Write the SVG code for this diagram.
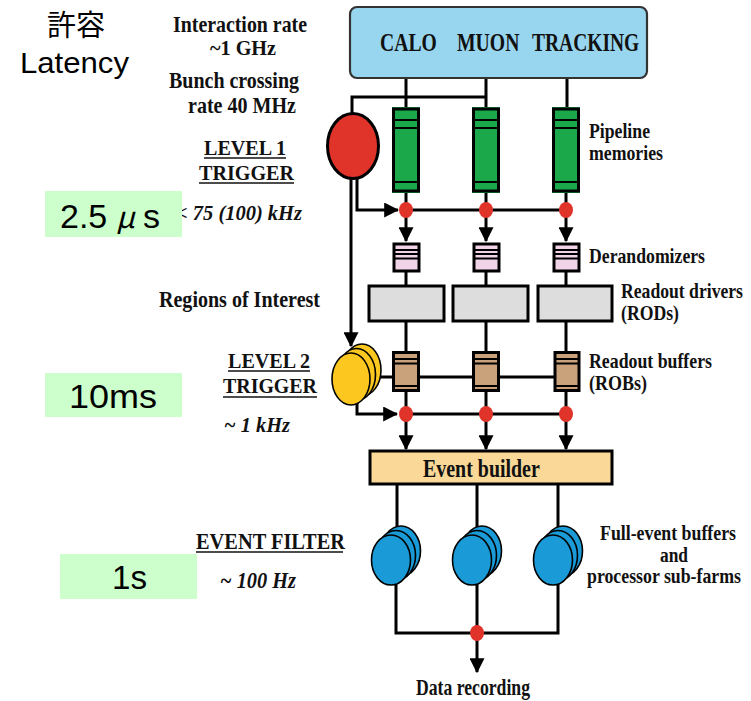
<svg xmlns="http://www.w3.org/2000/svg" width="751" height="701" viewBox="0 0 751 701">
<defs>
<style>
.t{font-family:"Liberation Serif","Times New Roman",serif;font-weight:bold;fill:#111}
.ti{font-family:"Liberation Serif","Times New Roman",serif;font-weight:bold;font-style:italic;fill:#111}
.s{font-family:"Liberation Sans",Arial,"Noto Sans CJK JP",sans-serif;fill:#000}
.ln{stroke:#000;stroke-width:3;fill:none}
.ul{stroke:#111;stroke-width:1.6}
.gb{fill:#ccffcc}
.pipe{fill:#1aa84a;stroke:#000;stroke-width:3}
.der{fill:#f2d4e8;stroke:#000;stroke-width:3}
.rod{fill:#dddddd;stroke:#000;stroke-width:3}
.rob{fill:#c9a27c;stroke:#000;stroke-width:3}
.il{stroke:#000;stroke-width:1.8}
.dot{fill:#e0342b}
.yel{fill:#fcc820;stroke:#000;stroke-width:1.6}
.blu{fill:#1a9ad6;stroke:#000;stroke-width:1.6}
</style>
<marker id="ah" markerWidth="5" markerHeight="5" refX="4.6" refY="2.5" orient="auto" markerUnits="strokeWidth">
<path d="M0,0 L5,2.5 L0,5 Z" fill="#000"/>
</marker>
</defs>

<g id="connectors">
<path class="ln" d="M406,78 V108 M486,78 V108 M567,78 V108"/>
<path class="ln" d="M352,115 V97 H486"/>
<path class="ln" d="M406,192 V210 M486,192 V210 M566,192 V210"/>
<path class="ln" d="M406,210 H566"/>
<path class="ln" d="M357,178 V210 H398" marker-end="url(#ah)"/>
<path class="ln" d="M406,212 V241" marker-end="url(#ah)"/>
<path class="ln" d="M486,212 V241" marker-end="url(#ah)"/>
<path class="ln" d="M566,212 V241" marker-end="url(#ah)"/>
<path class="ln" d="M406,272 V285 M486,272 V285 M566,272 V285"/>
<path class="ln" d="M406,321 V352 M486,321 V352 M566,321 V352"/>
<path class="ln" d="M351,179 V346" marker-end="url(#ah)"/>
<path class="ln" d="M378,377 H566"/>
<path class="ln" d="M406,392 V414 M486,392 V414 M566,392 V414"/>
<path class="ln" d="M406,414 H566"/>
<path class="ln" d="M357,402 V414 H397" marker-end="url(#ah)"/>
<path class="ln" d="M406,416 V449" marker-end="url(#ah)"/>
<path class="ln" d="M486,416 V449" marker-end="url(#ah)"/>
<path class="ln" d="M566,416 V449" marker-end="url(#ah)"/>
<path class="ln" d="M397,485 V528 M477,485 V528 M558,485 V528"/>
<path class="ln" d="M396,584 V633 H558 V584 M477,584 V633"/>
<path class="ln" d="M477,635 V672" marker-end="url(#ah)"/>
</g>

<g id="detector">
<rect x="350" y="7" width="297" height="71" rx="7" fill="#98d6ef" stroke="#333" stroke-width="2.2"/>
<text class="t" transform="translate(380,51) scale(0.8,1)" font-size="26" textLength="71" lengthAdjust="spacingAndGlyphs">CALO</text>
<text class="t" transform="translate(457,51) scale(0.8,1)" font-size="26" textLength="78" lengthAdjust="spacingAndGlyphs">MUON</text>
<text class="t" transform="translate(532,51) scale(0.8,1)" font-size="26" textLength="134" lengthAdjust="spacingAndGlyphs">TRACKING</text>
</g>

<g id="pipelines">
<rect x="392" y="107" width="28" height="86" fill="#1aa84a"/>
<rect class="pipe" x="393.5" y="109" width="25" height="82"/>
<path class="il" d="M394,120 H418 M394,128 H418 M394,182 H418"/>
<rect x="472" y="107" width="28" height="86" fill="#1aa84a"/>
<rect class="pipe" x="473.5" y="109" width="25" height="82"/>
<path class="il" d="M474,120 H498 M474,128 H498 M474,182 H498"/>
<rect x="552" y="107" width="28" height="86" fill="#1aa84a"/>
<rect class="pipe" x="553.5" y="109" width="25" height="82"/>
<path class="il" d="M554,120 H578 M554,128 H578 M554,182 H578"/>
</g>

<g id="level1">
<ellipse cx="353" cy="146" rx="25.5" ry="32.5" fill="#e0342b" stroke="#000" stroke-width="3"/>
</g>

<g id="l1-dots">
<ellipse class="dot" cx="406" cy="210" rx="7" ry="8"/>
<ellipse class="dot" cx="486" cy="210" rx="7" ry="8"/>
<ellipse class="dot" cx="566" cy="210" rx="7" ry="8"/>
</g>

<g id="derandomizers">
<rect class="der" x="394" y="244" width="25" height="27"/>
<path class="il" d="M395,250 H418 M395,254 H418 M395,258.5 H418"/>
<rect class="der" x="474" y="244" width="25" height="27"/>
<path class="il" d="M475,250 H498 M475,254 H498 M475,258.5 H498"/>
<rect class="der" x="554" y="244" width="25" height="27"/>
<path class="il" d="M555,250 H578 M555,254 H578 M555,258.5 H578"/>
</g>

<g id="rods">
<rect class="rod" x="369" y="286" width="75" height="35"/>
<rect class="rod" x="453" y="286" width="75" height="35"/>
<rect class="rod" x="538" y="286" width="74" height="35"/>
</g>

<g id="level2">
<ellipse class="yel" cx="362" cy="370" rx="19" ry="26"/>
<ellipse class="yel" cx="356.5" cy="374.5" rx="19" ry="26"/>
<ellipse class="yel" cx="351" cy="379" rx="19" ry="26"/>
</g>

<g id="robs">
<rect class="rob" x="393.5" y="352.5" width="25" height="38"/>
<path class="il" d="M395,359 H417 M395,363.5 H417 M395,386 H417"/>
<rect class="rob" x="473.5" y="352.5" width="25" height="38"/>
<path class="il" d="M475,359 H497 M475,363.5 H497 M475,386 H497"/>
<rect class="rob" x="555" y="352.5" width="24" height="38"/>
<path class="il" d="M556,359 H578 M556,363.5 H578 M556,386 H578"/>
</g>

<g id="l2-dots">
<ellipse class="dot" cx="406" cy="414" rx="7" ry="8"/>
<ellipse class="dot" cx="486" cy="414" rx="7" ry="8"/>
<ellipse class="dot" cx="566" cy="414" rx="7" ry="8"/>
</g>

<g id="event-builder">
<rect x="370" y="451" width="242" height="33" fill="#f9d898" stroke="#000" stroke-width="3"/>
<text class="t" transform="translate(423,477) scale(0.8,1)" font-size="26" textLength="146" lengthAdjust="spacingAndGlyphs">Event builder</text>
</g>

<g id="farms">
<ellipse class="blu" cx="401" cy="551" rx="19.5" ry="25"/>
<ellipse class="blu" cx="396" cy="555.5" rx="19.5" ry="25"/>
<ellipse class="blu" cx="391" cy="560" rx="19.5" ry="25"/>
<ellipse class="blu" cx="482" cy="551" rx="19.5" ry="25"/>
<ellipse class="blu" cx="477" cy="555.5" rx="19.5" ry="25"/>
<ellipse class="blu" cx="472" cy="560" rx="19.5" ry="25"/>
<ellipse class="blu" cx="563" cy="551" rx="19.5" ry="25"/>
<ellipse class="blu" cx="558" cy="555.5" rx="19.5" ry="25"/>
<ellipse class="blu" cx="553" cy="560" rx="19.5" ry="25"/>
</g>

<g id="record-dot">
<ellipse class="dot" cx="477" cy="633" rx="7" ry="8"/>
</g>

<g id="labels">
<text class="t" transform="translate(173,32) scale(0.8,1)" font-size="24" textLength="167.5" lengthAdjust="spacingAndGlyphs">Interaction rate</text>
<text class="t" transform="translate(210,55) scale(0.8,1)" font-size="22" textLength="82.5" lengthAdjust="spacingAndGlyphs">~1 GHz</text>
<text class="t" transform="translate(169,88) scale(0.8,1)" font-size="24" textLength="162.5" lengthAdjust="spacingAndGlyphs">Bunch crossing</text>
<text class="t" transform="translate(188,113) scale(0.8,1)" font-size="24" textLength="135" lengthAdjust="spacingAndGlyphs">rate 40 MHz</text>
<text class="t" transform="translate(204,155) scale(0.8,1)" font-size="22" textLength="102.5" lengthAdjust="spacingAndGlyphs">LEVEL 1</text>
<line class="ul" x1="204" y1="158" x2="286" y2="158"/>
<text class="t" transform="translate(199,180) scale(0.8,1)" font-size="22" textLength="118.75" lengthAdjust="spacingAndGlyphs">TRIGGER</text>
<line class="ul" x1="199" y1="183" x2="294" y2="183"/>
<text class="ti" transform="translate(176,220) scale(0.8,1)" font-size="22" textLength="157.5" lengthAdjust="spacingAndGlyphs">&lt; 75 (100) kHz</text>
<text class="t" transform="translate(589,138) scale(0.8,1)" font-size="22" textLength="76.25" lengthAdjust="spacingAndGlyphs">Pipeline</text>
<text class="t" transform="translate(589,160) scale(0.8,1)" font-size="22" textLength="92.5" lengthAdjust="spacingAndGlyphs">memories</text>
<text class="t" transform="translate(589,263) scale(0.8,1)" font-size="22" textLength="145" lengthAdjust="spacingAndGlyphs">Derandomizers</text>
<text class="t" transform="translate(621,298) scale(0.8,1)" font-size="22" textLength="152.5" lengthAdjust="spacingAndGlyphs">Readout drivers</text>
<text class="t" transform="translate(621,320) scale(0.8,1)" font-size="22" textLength="72.5" lengthAdjust="spacingAndGlyphs">(RODs)</text>
<text class="t" transform="translate(159,307) scale(0.8,1)" font-size="23" textLength="201.25" lengthAdjust="spacingAndGlyphs">Regions of Interest</text>
<text class="t" transform="translate(589,368) scale(0.8,1)" font-size="22" textLength="153.75" lengthAdjust="spacingAndGlyphs">Readout buffers</text>
<text class="t" transform="translate(589,390) scale(0.8,1)" font-size="22" textLength="72.5" lengthAdjust="spacingAndGlyphs">(ROBs)</text>
<text class="t" transform="translate(228,368) scale(0.8,1)" font-size="22" textLength="102.5" lengthAdjust="spacingAndGlyphs">LEVEL 2</text>
<line class="ul" x1="228" y1="371" x2="310" y2="371"/>
<text class="t" transform="translate(223,393) scale(0.8,1)" font-size="22" textLength="117.5" lengthAdjust="spacingAndGlyphs">TRIGGER</text>
<line class="ul" x1="223" y1="397" x2="317" y2="397"/>
<text class="ti" transform="translate(224,432) scale(0.8,1)" font-size="22" textLength="82.5" lengthAdjust="spacingAndGlyphs">~ 1 kHz</text>
<text class="t" transform="translate(196,549) scale(0.8,1)" font-size="23" textLength="186.25" lengthAdjust="spacingAndGlyphs">EVENT FILTER</text>
<line class="ul" x1="196" y1="552" x2="343" y2="552"/>
<text class="ti" transform="translate(220,588) scale(0.8,1)" font-size="23" textLength="95" lengthAdjust="spacingAndGlyphs">~ 100 Hz</text>
<text class="t" transform="translate(600,540) scale(0.8,1)" font-size="22" textLength="170" lengthAdjust="spacingAndGlyphs">Full-event buffers</text>
<text class="t" transform="translate(660,562) scale(0.8,1)" font-size="21" textLength="35" lengthAdjust="spacingAndGlyphs">and</text>
<text class="t" transform="translate(587,583) scale(0.8,1)" font-size="22" textLength="192.5" lengthAdjust="spacingAndGlyphs">processor sub-farms</text>
<text class="t" transform="translate(416,695) scale(0.8,1)" font-size="24" textLength="142.5" lengthAdjust="spacingAndGlyphs">Data recording</text>
</g>

<g id="latency">
<text class="s" x="76" y="36" font-size="29" text-anchor="middle">許容</text>
<text class="s" x="20" y="73" font-size="29" textLength="109" lengthAdjust="spacingAndGlyphs">Latency</text>
<rect class="gb" x="45" y="191" width="137" height="46"/>
<text class="s" y="228" font-size="34"><tspan x="60">2.5</tspan><tspan x="116" font-family="'Noto Sans CJK JP',sans-serif" font-size="30" font-style="italic">μ</tspan><tspan x="143">s</tspan></text>
<rect class="gb" x="45" y="373" width="137" height="44"/>
<text class="s" x="69" y="408" font-size="34" textLength="88" lengthAdjust="spacingAndGlyphs">10ms</text>
<rect class="gb" x="60" y="554" width="137" height="45"/>
<text class="s" x="112" y="589" font-size="34" textLength="35" lengthAdjust="spacingAndGlyphs">1s</text>
</g>
</svg>
